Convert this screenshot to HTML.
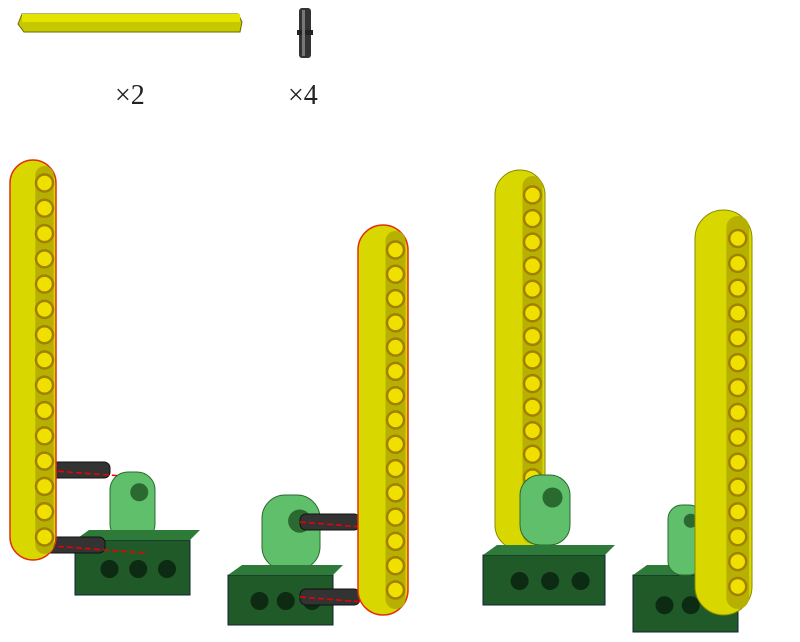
<!DOCTYPE html>
<html><head><meta charset="utf-8"><style>
body{margin:0;background:#fff;width:800px;height:642px;overflow:hidden}
svg{display:block}
text{font-family:"Liberation Serif","Noto Serif CJK SC",serif}
</style></head><body>
<svg id="s" width="800" height="642" viewBox="0 0 800 642">
<g>
  <g>
    <path d="M22 14 L238 14 L242 22 L240 32 L24 32 L18 24 Z" fill="#c8c800" stroke="#6a6a00" stroke-width="1"/>
    <rect x="22" y="14" width="218" height="8" fill="#e4e400"/>
  </g>
  <text x="115" y="104" font-size="28" fill="#222">×2</text>
  <g>
    <rect x="299" y="8" width="12" height="50" rx="3" fill="#333"/>
    <rect x="297" y="30" width="16" height="5" fill="#222"/>
    <rect x="302" y="10" width="3" height="46" fill="#777"/>
  </g>
  <text x="288" y="104" font-size="28" fill="#222">×4</text>
</g>
<g id="steps"></g>
</svg>
<script>
const NS="http://www.w3.org/2000/svg";
const steps=document.getElementById('steps');
function el(tag,attrs,parent,name){const e=document.createElementNS(NS,tag);for(const k in attrs)e.setAttribute(k,attrs[k]);


parent.appendChild(e);return e;}
function beam(g,x,y,w,h,red){
  el('rect',{x:x,y:y,width:w,height:h,rx:w/2,fill:'#d8d800',stroke:red?'#e03010':'#8a8a00','stroke-width':red?1.5:1},g,'beam-body');
  el('rect',{x:x+w*0.55,y:y+6,width:w*0.4,height:h-12,rx:w*0.2,fill:'#b8b000'},g,'beam-side');
  const n=15,step=(h-w)/(n-1);
  for(let i=0;i<n;i++){const cy=y+w/2+i*step;
    el('circle',{cx:x+w*0.75,cy:cy,r:8.5,fill:'#f0e000',stroke:'#a08000','stroke-width':2.5},g,'beam-hole');}
}
function brick(g,x,y,w,h){
  el('rect',{x:x,y:y+10,width:w,height:h-10,fill:'#1f5a28',stroke:'#123'},g,'dark-green-brick');
  el('polygon',{points:`${x},${y+10} ${x+14},${y} ${x+w+10},${y} ${x+w},${y+10}`,fill:'#2e7a38'},g,'brick-top');
  for(let i=0;i<3;i++)el('circle',{cx:x+w*(0.3+0.25*i),cy:y+h*0.6,r:9,fill:'#0d2a12'},g,'brick-hole');
}
function bracket(g,x,y,w,h){
  el('rect',{x:x,y:y,width:w,height:h,rx:w/2.5,fill:'#5fbf6a',stroke:'#2a6a30'},g,'light-green-bracket');
  el('circle',{cx:x+w*0.65,cy:y+w*0.45,r:w*0.2,fill:'#2a6a30'},g,'bracket-hole');
}
function pin(g,x1,x2,y){
  el('rect',{x:x1,y:y-8,width:x2-x1,height:16,rx:6,fill:'#333',stroke:'#111'},g,'black-pin');
  el('line',{x1:x1,y1:y,x2:x2+40,y2:y+8,stroke:'#e00','stroke-width':1.5,'stroke-dasharray':'6,3'},g,'pin-guide');
}
let g=el('g',{},steps,'step-1');
pin(g,40,110,470);
bracket(g,110,472,45,70);brick(g,75,530,115,65);
pin(g,40,105,545);
beam(g,10,160,46,400,true);
g=el('g',{},steps,'step-2');
bracket(g,262,495,58,75);pin(g,300,360,522);
brick(g,228,565,105,60);pin(g,300,360,597);
beam(g,358,225,50,390,true);
g=el('g',{},steps,'step-3');
beam(g,495,170,50,380,false);
bracket(g,520,475,50,70);brick(g,483,545,122,60);
g=el('g',{},steps,'step-4');
brick(g,633,565,105,67);bracket(g,668,505,35,70);
beam(g,695,210,57,405,false);
</script>
</body></html>
